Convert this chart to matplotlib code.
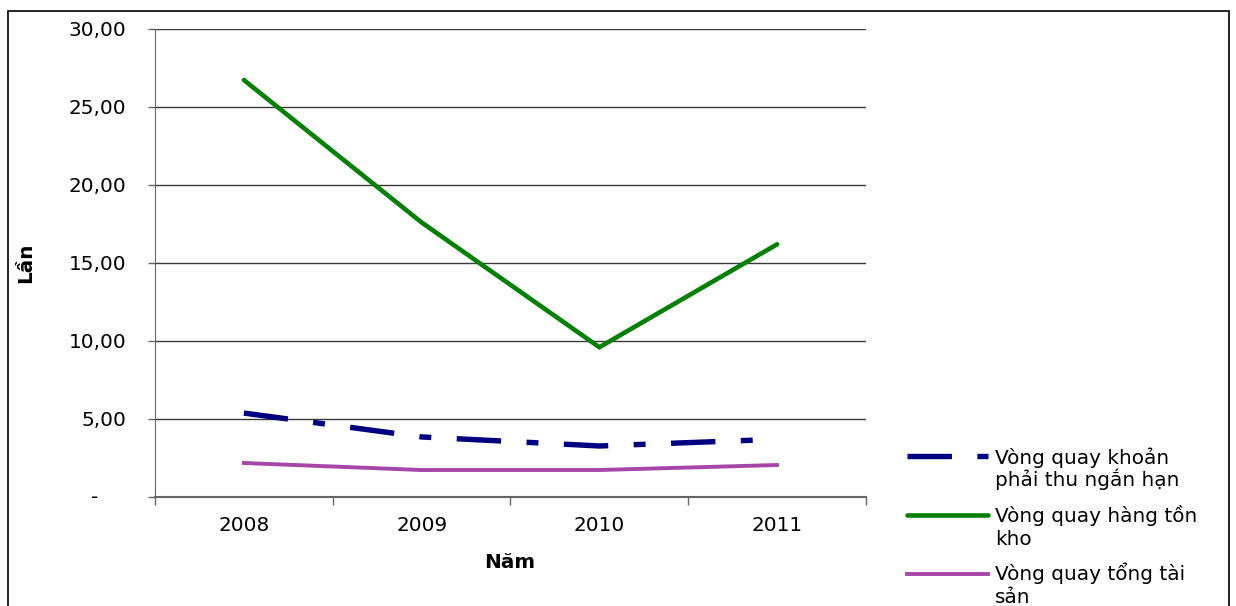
import matplotlib.pyplot as plt
import matplotlib.lines as mlines
from matplotlib.patches import Rectangle
from matplotlib.ticker import FuncFormatter, FixedLocator

# Chart data
years = ["2008", "2009", "2010", "2011"]
receivable_turnover = [5.38, 3.85, 3.27, 3.70]
inventory_turnover = [26.73, 17.60, 9.60, 16.20]
asset_turnover = [2.18, 1.73, 1.73, 2.05]
y_ticks = [0, 5, 10, 15, 20, 25, 30]
series_labels = [["Vòng quay khoản", "phải thu ngắn hạn"],
                 ["Vòng quay hàng tồn", "kho"],
                 ["Vòng quay tổng tài", "sản"]]

plt.rcParams['font.family'] = ['DejaVu Sans']
FS = 14.4

W, H = 1236, 606
fig = plt.figure(figsize=(W / 100, H / 100), dpi=100)


def fx(px):
    return px / W


def fy(py):
    return 1 - py / H


ax = fig.add_axes([fx(155), fy(497), fx(866 - 155), (497 - 29) / H])

navy = '#000080'
green = '#008000'
purple = '#A546A8'
blue_dash = (8.2, 4.7, 2.2, 4.7)

x = list(range(len(years)))
ax.plot(x, receivable_turnover, color=navy, lw=3.9, dashes=blue_dash,
        dash_capstyle='butt', zorder=3)
ax.plot(x, inventory_turnover, color=green, lw=3.3, solid_capstyle='round',
        solid_joinstyle='miter', zorder=3)
ax.plot(x, asset_turnover, color=purple, lw=2.8, zorder=3)

ax.set_xlim(-0.5, 3.5)
ax.set_ylim(0, 30)
ax.yaxis.set_major_locator(FixedLocator(y_ticks))
ax.yaxis.set_major_formatter(FuncFormatter(
    lambda v, p: '' if v == 0 else f"{v:.2f}".replace('.', ',')))
# zero shown as a dash, accounting style
ax.text(-60 / 711, 0, '-', transform=ax.get_yaxis_transform(),
        ha='center', va='center', fontsize=FS)

ax.set_xticks(x)
ax.set_xticklabels(years)
ax.xaxis.set_minor_locator(FixedLocator([-0.5, 0.5, 1.5, 2.5, 3.5]))
ax.tick_params(axis='x', which='major', length=0, pad=13.5, labelsize=FS)
ax.tick_params(axis='x', which='minor', length=5.5, width=1, color='#666666')
ax.tick_params(axis='y', length=5, width=1, color='#666666', labelsize=FS, pad=15.5)

ax.grid(axis='y', color='#3a3a3a', lw=1)
for side in ['top', 'right']:
    ax.spines[side].set_visible(False)
ax.spines['left'].set_color('#666666')
ax.spines['bottom'].set_color('#666666')
ax.spines['bottom'].set_linewidth(1.5)

ax.set_xlabel("Năm", fontsize=FS, fontweight='bold', va='center')
ax.xaxis.set_label_coords((510 - 155) / 711, (497 - 563) / 468)
ax.set_ylabel("Lần", fontsize=FS, fontweight='bold', va='center')
ax.yaxis.set_label_coords((26 - 155) / 711, (497 - 263) / 468)

# Legend, drawn entry by entry in pixel positions
handles = [
    dict(color=navy, lw=3.9, dashes=blue_dash, dash_capstyle='butt'),
    dict(color=green, lw=3.3, solid_capstyle='round'),
    dict(color=purple, lw=2.8),
]
handle_y = [456, 515, 574]
text_base = [[464, 486], [522, 545], [580, 603]]
for style, hy, lines, bases in zip(handles, handle_y, series_labels, text_base):
    fig.add_artist(mlines.Line2D([fx(907), fx(988)], [fy(hy), fy(hy)],
                                 transform=fig.transFigure, **style))
    for txt, by in zip(lines, bases):
        fig.text(fx(995), fy(by), txt, fontsize=FS, ha='left', va='baseline')

# Outer chart frame
fig.add_artist(Rectangle((fx(8), -0.05), fx(1229 - 8), 1.05 - 11 / H,
                         transform=fig.transFigure, fill=False,
                         edgecolor='black', lw=1.2))

fig.savefig('out.png', dpi=100)
